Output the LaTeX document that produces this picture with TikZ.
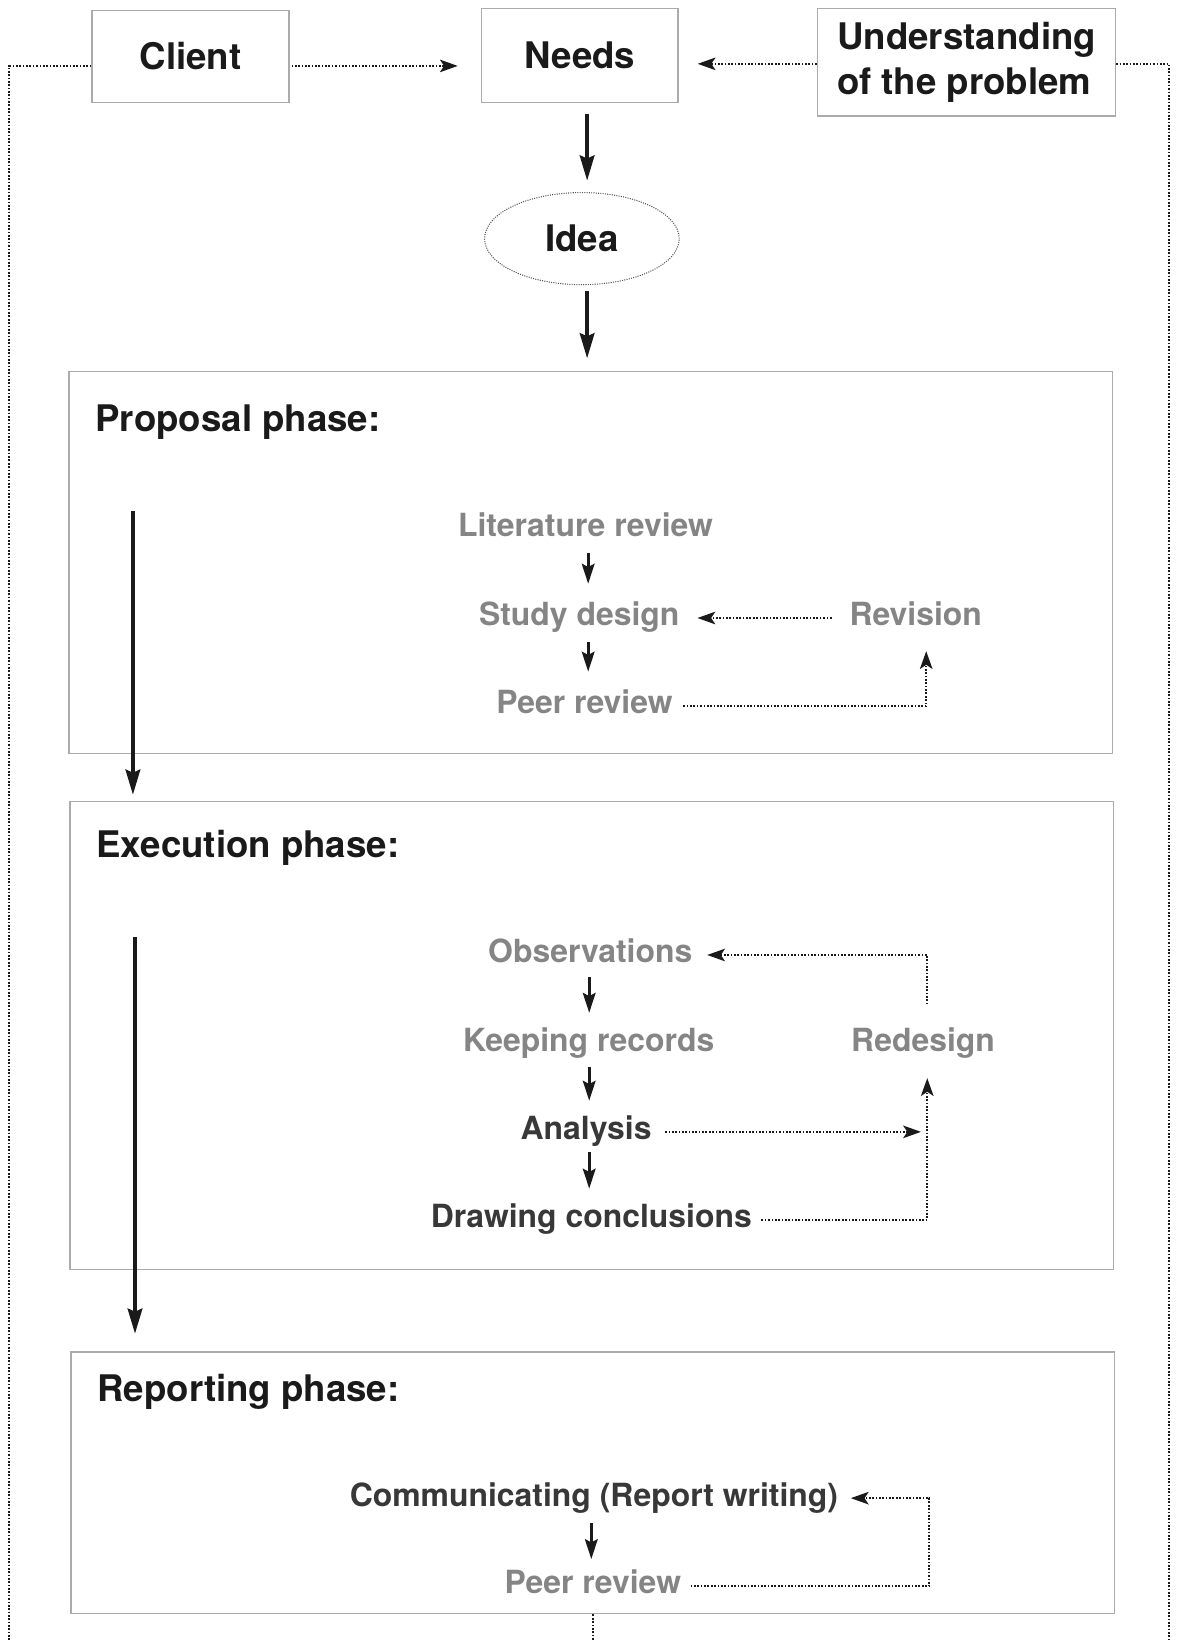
\documentclass[tikz,border=0pt]{standalone}
\usepackage{fontspec}
\setmainfont{TeX Gyre Heros}
\usetikzlibrary{arrows.meta,shapes.geometric}
\definecolor{boxgray}{HTML}{ABABAB}
\definecolor{txtgray}{HTML}{858585}
\definecolor{txtdark}{HTML}{383838}
\definecolor{txtblack}{HTML}{1A1A1A}
\definecolor{ellgray}{HTML}{555555}
\begin{document}
\begin{tikzpicture}[x=1pt,y=-1pt,
  topbox/.style={draw=boxgray, line width=1.3pt, font=\fontsize{35}{43}\selectfont\bfseries, text=txtblack, inner sep=0pt},
  phasebox/.style={draw=boxgray, line width=1.3pt, inner sep=0pt},
  phasetitle/.style={font=\fontsize{35}{43}\selectfont\bfseries, text=txtblack, inner sep=0pt, anchor=base west},
  item/.style={font=\fontsize{30.5}{36}\selectfont\bfseries, text=txtgray, inner sep=0pt, text height=22pt, text depth=7pt, anchor=base},
  darkitem/.style={item, text=txtdark},
  thickarrow/.style={draw=txtblack, line width=3.4pt, -{Stealth[length=24pt,width=14pt,inset=3pt]}},
  smallarrow/.style={draw=txtblack, line width=3pt, -{Stealth[length=19pt,width=12pt,inset=3pt]}},
  dotline/.style={draw=txtblack, line width=1.8pt, dash pattern=on 1.6pt off 1.6pt},
  dotarrow/.style={dotline, -{Stealth[length=17pt,width=12pt,inset=4pt]}}
]
\useasboundingbox (0,0) rectangle (1124,1568);

% top row
\node[topbox, minimum width=188pt, minimum height=88pt] (client) at (182,54) {Client};
\node[topbox, minimum width=188pt, minimum height=90pt] (needs) at (554,53) {Needs};
\node[topbox, minimum width=285pt, minimum height=103pt, align=left] (und) at (923.5,59.5) {Understanding\\of the problem};
\node[ellipse, draw=ellgray, line width=1pt, dash pattern=on 1pt off 1.2pt, minimum width=186pt, minimum height=88pt, inner sep=0pt, font=\fontsize{35}{43}\selectfont\bfseries, text=txtblack] (idea) at (556,228) {Idea};

\draw[dotarrow, shorten <=2pt, shorten >=22pt] ([yshift=-9pt]client.east) -- ([yshift=-10pt]needs.west);
\draw[dotarrow, shorten >=18pt] ([yshift=-1.5pt]und.west) -- ([yshift=-8pt]needs.east);

\coordinate (lbot) at (9,1568);
\coordinate (rbot) at (1117,1568);
\draw[dotline] ([yshift=-9pt]client.west) -| (lbot);
\draw[dotline] ([yshift=-1.5pt]und.east) -| (rbot);

% phase boxes
\node[phasebox, minimum width=997pt, minimum height=365pt] (prop) at (564.5,537.5) {};
\node[phasebox, minimum width=997pt, minimum height=447pt] (exec) at (565.5,989.5) {};
\node[phasebox, minimum width=997pt, minimum height=250pt] (rep) at (566.5,1417) {};

\node[phasetitle] (propt) at (91,412) {Proposal phase:};
\node[phasetitle] (exect) at (92,819) {Execution phase:};
\node[phasetitle] (rept) at (93,1339) {Reporting phase:};

\draw[thickarrow, shorten <=10pt, shorten >=11pt] ([xshift=7pt]needs.south) -- ([xshift=5pt]idea.north);
\draw[thickarrow, shorten <=6pt, shorten >=12pt] ([xshift=5pt]idea.south) -- ([xshift=-3.5pt]prop.north);

\coordinate (pa) at (127,488);
\draw[thickarrow, shorten >=6pt] (pa) -- (pa |- exec.north);
\coordinate (ea) at (129,895);
\draw[thickarrow, shorten >=17pt] (ea) -- (ea |- rep.north);

% proposal phase
\node[item] (lit) at (559.5,513) {Literature review};
\node[item] (study) at (553.5,598) {Study design};
\node[item] (peer1) at (558.5,682) {Peer review};
\node[item] (rev) at (875,598) {Revision};
\coordinate (ax1) at (562,0);
\draw[smallarrow, shorten <=8pt, shorten >=18pt] (lit.south -| ax1) -- (study.north -| ax1);
\draw[smallarrow, shorten <=8pt, shorten >=18pt] (study.south -| ax1) -- (peer1.north -| ax1);
\draw[dotarrow, shorten <=17pt, shorten >=17pt] (rev.west) -- (study.east);
\draw[dotarrow, shorten <=10pt, shorten >=17pt] (peer1.east) -| ([xshift=10pt]rev.south);

% execution phase
\node[item] (obs) at (564,920) {Observations};
\node[item] (keep) at (562.5,1005) {Keeping records};
\node[darkitem] (ana) at (560,1089) {Analysis};
\node[darkitem] (concl) at (565,1173) {Drawing conclusions};
\node[item] (redes) at (882,1005) {Redesign};
\coordinate (ax2) at (563,0);
\draw[smallarrow, shorten <=6pt, shorten >=15pt] (obs.south -| ax2) -- (keep.north -| ax2);
\draw[smallarrow, shorten <=7pt, shorten >=15pt] (keep.south -| ax2) -- (ana.north -| ax2);
\draw[smallarrow, shorten <=5pt, shorten >=15pt] (ana.south -| ax2) -- (concl.north -| ax2);
\coordinate (rdx) at ([xshift=4pt]redes.south);
\draw[dotarrow, shorten <=23pt, shorten >=14pt] ([xshift=4pt]redes.north) |- (obs.east);
\draw[dotarrow, shorten <=13pt, shorten >=6pt] (ana.east) -- (ana.east -| rdx);
\draw[dotarrow, shorten <=9pt, shorten >=18pt] (concl.east) -| (rdx);

% reporting phase
\node[darkitem] (comm) at (567.5,1439) {Communicating (Report writing)};
\node[item] (peer2) at (566.5,1523) {Peer review};
\coordinate (ax3) at (565,0);
\coordinate (rx3) at (888,0);
\draw[smallarrow, shorten <=9pt, shorten >=11pt] (comm.south -| ax3) -- (peer2.north -| ax3);
\draw[dotarrow, shorten <=9pt, shorten >=12pt] (peer2.east) -| (comm.east -| rx3) -- (comm.east);

\coordinate (bbot) at (566,1568);
\draw[dotline] (rep.south) -- (rep.south |- bbot);
\end{tikzpicture}
\end{document}
